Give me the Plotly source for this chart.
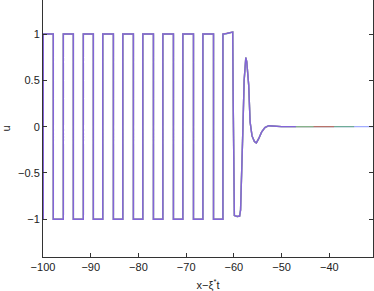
import plotly.graph_objects as go

# Square-wave edges (x where u jumps up / down)
rise_x = [-99.94, -95.74, -91.55, -87.48, -83.28, -79.09, -74.89, -70.70, -66.50, -62.30]
fall_x = [-97.84, -93.64, -89.45, -85.25, -81.06, -76.86, -72.67, -68.47, -64.27]
# Last plateau (slightly rising) and the decaying front
last_top_x = [-62.30, -61.5, -60.7, -60.25]
last_top_u = [1.0, 1.005, 1.013, 1.02]
front_x = [-60.15, -60.05, -59.9, -59.3, -58.8, -58.6, -58.4, -58.1, -57.85, -57.65, -57.5,
           -57.3, -57.1, -56.9, -56.6, -56.2, -55.7, -55.3, -54.8, -54.2, -53.5, -52.7, -52.0,
           -51.0, -50.0]
front_u = [0.3, -0.9, -0.96, -0.97, -0.965, -0.9, -0.6, 0.0, 0.5, 0.73, 0.745,
           0.70, 0.6, 0.45, 0.05, -0.10, -0.16, -0.175, -0.13, -0.06, -0.01, 0.01, 0.007,
           0.0, 0.0]

# Curves: colour and where each snapshot's domain ends
curve_names = ["blue", "green", "red", "cyan", "purple"]
curve_colors = ["rgba(70,90,255,0.50)", "rgba(60,170,50,0.50)", "rgba(255,60,60,0.50)",
                "rgba(80,255,180,0.45)", "rgba(130,80,235,0.80)"]
curve_end = [-30.85, -34.8, -39.0, -43.3, -47.0]

x_ticks = [-100, -90, -80, -70, -60, -50, -40]
y_ticks = [-1, -0.5, 0, 0.5, 1]
y_tick_text = ["\u22121", "\u22120.5", "0", "0.5", "1"]
x_tick_text = ["\u2212100", "\u221290", "\u221280", "\u221270", "\u221260", "\u221250", "\u221240"]


def build_curve(end, lead):
    xs, us = [], []
    if lead:
        xs.append(-100.0); us.append(-1.0)
    for i, r in enumerate(rise_x[:-1]):
        f = fall_x[i]
        xs += [r, r, f, f]
        us += [-1, 1, 1, -1]
    r = rise_x[-1]
    xs += [r]
    us += [-1]
    xs += last_top_x
    us += last_top_u
    xs += front_x
    us += front_u
    xs.append(end); us.append(0.0)
    return xs, us


fig = go.Figure()
for name, col, end in zip(curve_names, curve_colors, curve_end):
    xs, us = build_curve(end, name == "red")
    fig.add_trace(go.Scatter(x=xs, y=us, mode="lines", name=name,
                             line=dict(color=col, width=1.4), showlegend=False,
                             hoverinfo="skip"))

axis_font = dict(family="Liberation Sans, Arial, sans-serif", size=11, color="#222")
fig.update_layout(
    width=374, height=291,
    margin=dict(l=43, r=1, t=0, b=34, autoexpand=False),
    plot_bgcolor="white", paper_bgcolor="white",
    font=axis_font,
    xaxis=dict(range=[-100, -30.85], tickvals=x_ticks, ticktext=x_tick_text,
               ticks="inside", ticklen=4, tickcolor="#333", showline=True,
               linecolor="#333", linewidth=1, mirror=False, showgrid=False,
               zeroline=False, automargin=False,
               title=dict(text="x\u2212\u03be<sup>*</sup>t", standoff=9, font=axis_font)),
    yaxis=dict(range=[-1.407, 1.367], tickvals=y_ticks, ticktext=y_tick_text,
               ticks="inside", ticklen=4, tickcolor="#333", showline=True,
               linecolor="#333", linewidth=1, mirror="ticks", showgrid=False,
               zeroline=False, automargin=False,
               title=dict(text="u", standoff=13, font=axis_font)),
)
fig.write_html("out.html", config={"displayModeBar": False, "staticPlot": True})

# remove the browser's default page margin so the figure sits at (0, 0)
with open("out.html", encoding="utf-8") as fh:
    html = fh.read()
html = html.replace("<head>", "<head><style>html,body{margin:0;padding:0;overflow:hidden;}</style>", 1)
with open("out.html", "w", encoding="utf-8") as fh:
    fh.write(html)
